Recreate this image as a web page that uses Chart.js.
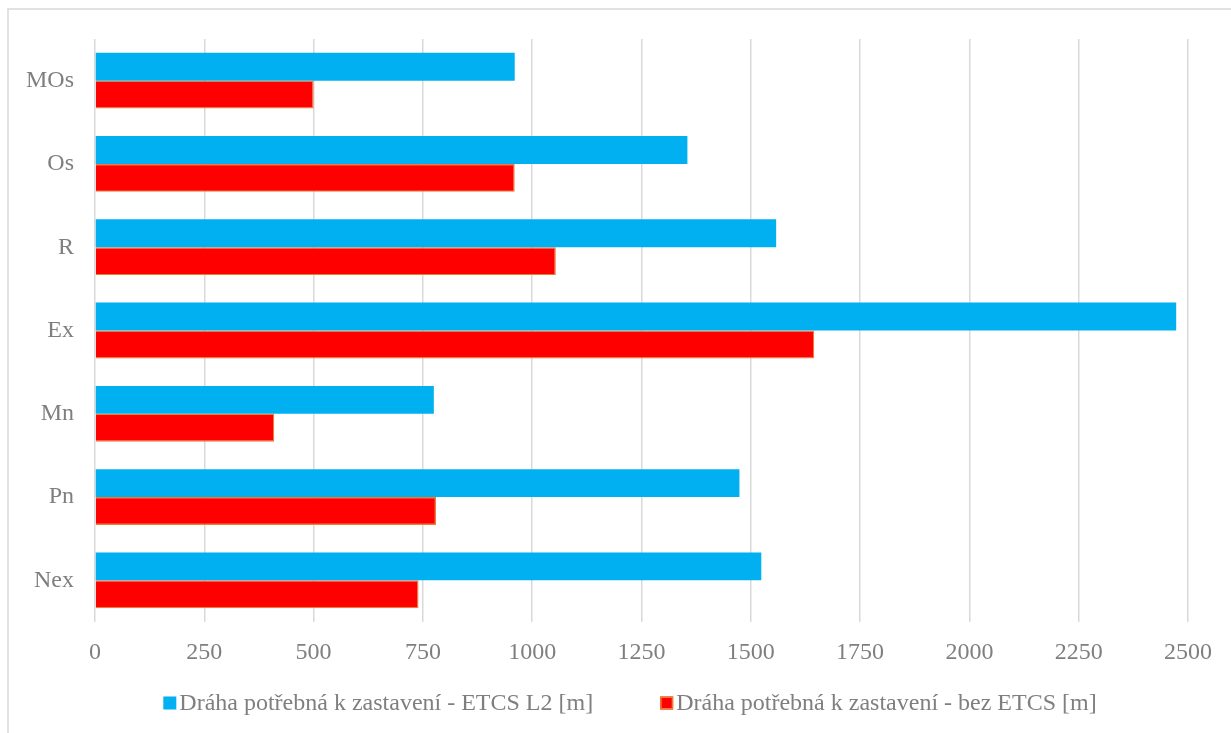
<!DOCTYPE html>
<html>
<head>
<meta charset="utf-8">
<title>Dráha potřebná k zastavení</title>
<script src="https://cdn.jsdelivr.net/npm/chart.js@4.4.0/dist/chart.umd.min.js"></script>
<style>
  html, body { margin: 0; padding: 0; background: #fff; }
  #wrap { position: relative; width: 1231px; height: 733px; }
</style>
</head>
<body>
<div id="wrap"><canvas id="stopChart"></canvas></div>
<script>
// druhy vlaků a brzdné dráhy [m]
const categories = ['MOs', 'Os', 'R', 'Ex', 'Mn', 'Pn', 'Nex'];
const etcsL2 = [960, 1355, 1558, 2473, 775, 1474, 1524];
const bezEtcs = [500, 960, 1054, 1645, 410, 780, 740];
const seriesNames = [
    'Dráha potřebná k zastavení - ETCS L2 [m]',
    'Dráha potřebná k zastavení - bez ETCS [m]'
];
const axisMax = 2500;
const axisStep = 250;

const textColor = '#7f7f7f';
const gridColor = '#d9d9d9';
const fontFamily = '"Liberation Serif", "Times New Roman", serif';

// ramecek grafu + legenda kreslena rucne (mensi mezera mezi ctvereckem a textem)
const frameAndLegend = {
    id: 'frameAndLegend',
    beforeDraw(chart) {
        const ctx = chart.ctx;
        ctx.save();
        ctx.strokeStyle = gridColor;
        ctx.lineWidth = 1.5;
        ctx.beginPath();
        ctx.moveTo(8, chart.height + 2);
        ctx.lineTo(8, 9);
        ctx.lineTo(chart.width + 2, 9);
        ctx.stroke();
        ctx.restore();
    },
    afterDraw(chart) {
        const ctx = chart.ctx;
        ctx.save();
        ctx.font = '24px ' + fontFamily;
        ctx.textBaseline = 'middle';
        const box = 13, gap = 3, spacing = 67;
        const items = chart.data.datasets.map(ds => ({
            text: ds.label,
            fill: ds.backgroundColor,
            stroke: ds.borderWidth ? ds.borderColor : null,
            w: ctx.measureText(ds.label).width
        }));
        let total = spacing * (items.length - 1);
        items.forEach(it => total += box + gap + it.w);
        let x = 630 - total / 2;
        const cy = 703;
        items.forEach(it => {
            ctx.fillStyle = it.fill;
            ctx.fillRect(x, cy - box / 2, box, box);
            if (it.stroke) {
                ctx.strokeStyle = it.stroke;
                ctx.lineWidth = 1.5;
                ctx.strokeRect(x + 0.75, cy - box / 2 + 0.75, box - 1.5, box - 1.5);
            }
            ctx.fillStyle = textColor;
            ctx.fillText(it.text, x + box + gap, cy + 1);
            x += box + gap + it.w + spacing;
        });
        ctx.restore();
    }
};

const dataForGraph = {
    labels: categories,
    datasets: [
        {
            label: seriesNames[0],
            data: etcsL2,
            backgroundColor: '#00b0f0',
            borderWidth: 0
        },
        {
            label: seriesNames[1],
            data: bezEtcs,
            backgroundColor: '#ff0000',
            borderColor: '#ed7d31',
            borderWidth: 1.2
        }
    ]
};

const config = {
    type: 'bar',
    data: dataForGraph,
    plugins: [frameAndLegend],
    options: {
        indexAxis: 'y',
        responsive: true,
        maintainAspectRatio: false,
        animation: false,
        layout: {
            padding: { left: 0, top: 39, right: 43, bottom: 61 }
        },
        datasets: {
            bar: {
                categoryPercentage: 0.67,
                barPercentage: 1.0
            }
        },
        plugins: {
            legend: { display: false },
            tooltip: { enabled: false }
        },
        scales: {
            x: {
                min: 0,
                max: axisMax,
                ticks: {
                    stepSize: axisStep,
                    color: textColor,
                    padding: 16,
                    maxRotation: 0,
                    font: { family: fontFamily, size: 24 },
                    callback: function (value) {
                        return String(value);
                    }
                },
                grid: {
                    color: gridColor,
                    lineWidth: 1.5,
                    drawTicks: false
                },
                border: { display: false },
                afterFit: function (scale) {
                    scale.height = 50;
                }
            },
            y: {
                ticks: {
                    color: textColor,
                    padding: 21,
                    font: { family: fontFamily, size: 24 }
                },
                grid: { display: false, drawTicks: false },
                border: { display: false },
                afterFit: function (scale) {
                    scale.width = 95;
                }
            }
        }
    }
};

let ctx = document.getElementById('stopChart');
let stopChart = new Chart(ctx, config);
</script>
</body>
</html>
